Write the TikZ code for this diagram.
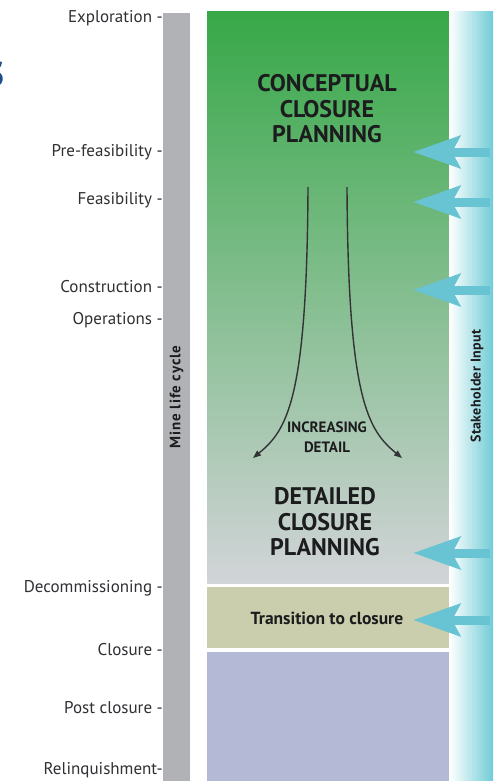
\documentclass[tikz,border=0pt]{standalone}
\usepackage{fontspec}
\setmainfont{PT Sans}
\newfontfamily\lifefont[LetterSpace=6]{PT Sans}
\newfontfamily\inputfont[LetterSpace=3]{PT Sans}
\usetikzlibrary{arrows.meta}

\definecolor{stagegreen}{RGB}{55,168,72}
\definecolor{stagemid}{RGB}{140,192,132}
\definecolor{stagegray}{RGB}{210,212,216}
\definecolor{lifebar}{RGB}{177,178,182}
\definecolor{inputcyan}{RGB}{112,204,214}
\definecolor{inputarrow}{RGB}{104,196,210}
\definecolor{transolive}{RGB}{202,206,172}
\definecolor{postpurple}{RGB}{180,185,214}
\definecolor{labeltext}{RGB}{48,48,52}
\definecolor{headtext}{RGB}{28,28,30}
\definecolor{titleblue}{RGB}{28,78,142}

\tikzset{
  phase/.style={anchor=east, inner sep=0pt, text=labeltext, font=\fontsize{17}{20}\selectfont},
  heading/.style={align=center, inner sep=0pt, text=headtext,
    font=\bfseries\fontsize{24}{25.5}\selectfont},
  inputarrow/.style={draw=inputarrow, line width=9pt,
    -{Stealth[length=47pt, width=32pt, inset=8pt]}},
  detailarrow/.style={draw=headtext!90, line width=1.4pt,
    -{Triangle[length=8pt, width=6pt]}}
}

\begin{document}
\begin{tikzpicture}[x=1pt,y=-1pt]
\useasboundingbox (0,0) rectangle (501,781);
\fill[white] (0,0) rectangle (501,781);

% tail of the title word at the page edge
\begin{scope}
\clip (0,0) rectangle (501,781);
\node[anchor=east, inner sep=0pt, text=titleblue,
  font=\bfseries\fontsize{50}{50}\selectfont] (titletail) at (5,74) {s};
\end{scope}

% mine life cycle bar
\fill[lifebar] (163,13) rectangle (190,781);
\node[rotate=90, inner sep=0pt, text=headtext,
  font=\lifefont\bfseries\fontsize{15}{17}\selectfont]
  (lifelabel) at (176.5,397) {Mine life cycle};

% planning stages
\shade[top color=stagegreen, middle color=stagemid, bottom color=stagegray]
  (207,12) rectangle (449,583);
\fill[transolive] (207,587) rectangle (449,648);
\fill[postpurple] (207,652) rectangle (449,781);

% stakeholder input bar
\shade[left color=white, right color=inputcyan] (449,12) rectangle (493,781);
\node[rotate=90, inner sep=0pt, text=headtext,
  font=\inputfont\bfseries\fontsize{14}{16}\selectfont]
  (inputlabel) at (477,386) {Stakeholder Input};

% phase labels
\node[phase] (exploration)     at (163,18)  {Exploration -};
\node[phase] (prefeasibility)  at (163,152) {Pre-feasibility -};
\node[phase] (feasibility)     at (163,200) {Feasibility -};
\node[phase] (construction)    at (163,287) {Construction -};
\node[phase] (operations)      at (163,320) {Operations -};
\node[phase] (decommissioning) at (163,588) {Decommissioning -};
\node[phase] (closure)         at (163,650) {Closure -};
\node[phase] (postclosure)     at (163,708) {Post closure -};
\node[phase] (relinquishment)  at (163,770) {Relinquishment-};

% stage headings
\node[heading] (conceptual) at (327,109) {CONCEPTUAL\\CLOSURE\\PLANNING};
\node[heading] (detailed)   at (325,522) {DETAILED\\CLOSURE\\PLANNING};
\node[inner sep=0pt, text=headtext, font=\bfseries\fontsize{17.5}{19}\selectfont]
  (transition) at (327,618) {Transition to closure};
\node[align=center, inner sep=0pt, text=headtext,
  font=\bfseries\fontsize{15}{19.5}\selectfont]
  (increasing) at (327,437) {INCREASING\\DETAIL};

% widening arrows
\coordinate (lefttop)  at (308,187);
\coordinate (leftend)  at (253,458);
\coordinate (righttop) at (347,187);
\coordinate (rightend) at (402,458);
\draw[detailarrow] (lefttop) .. controls (307,400) and (287,430) .. (leftend);
\draw[detailarrow] (righttop) .. controls (348,400) and (368,430) .. (rightend);

% stakeholder input arrows
\foreach \name/\y in {inA/152, inB/202, inC/290, inD/553, inE/620}{
  \coordinate (\name src) at (490,\y);
  \coordinate (\name tip) at (413,\y);
  \draw[inputarrow] (\name src) -- (\name tip);
}
\end{tikzpicture}
\end{document}
